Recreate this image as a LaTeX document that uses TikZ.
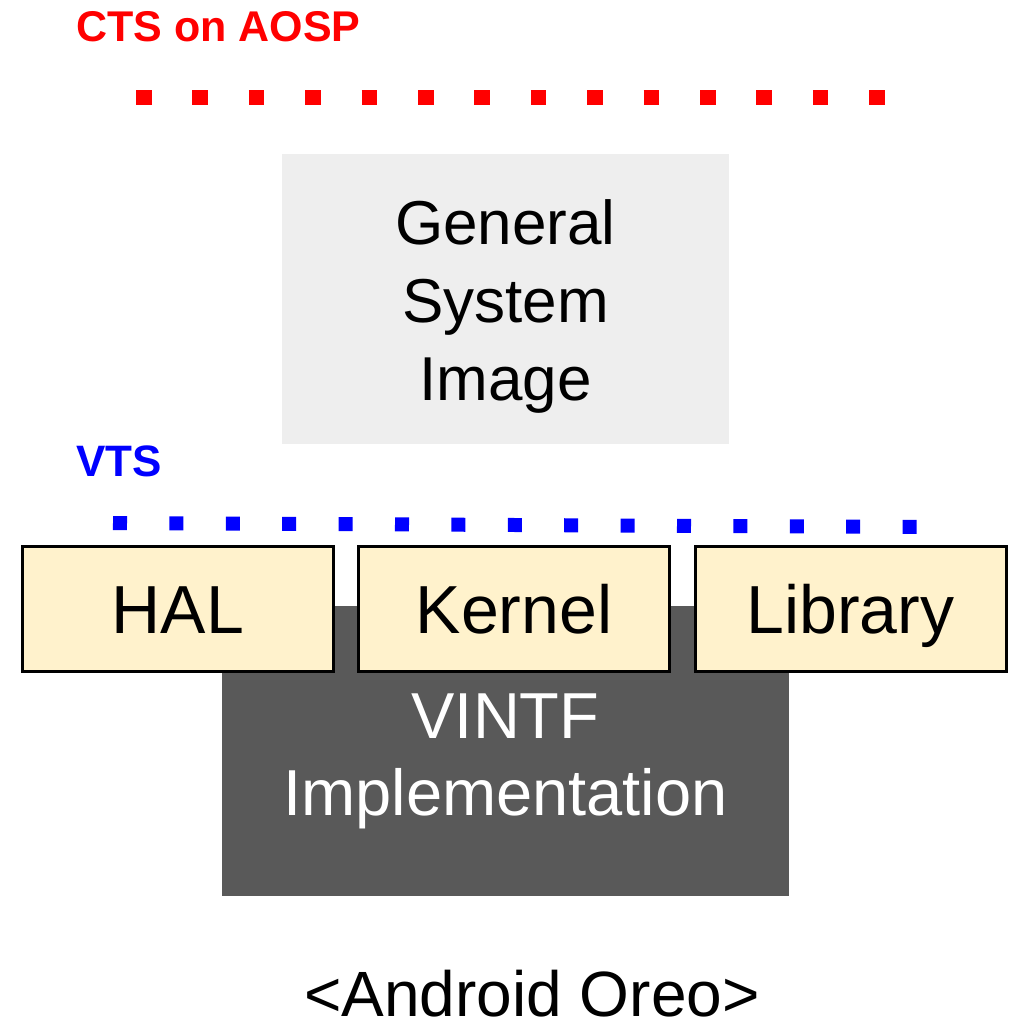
\documentclass[tikz,border=0pt]{standalone}
\usepackage{fontspec}
\setmainfont{Liberation Sans}
\definecolor{ctsred}{HTML}{FF0000}
\definecolor{vtsblue}{HTML}{0000FF}
\definecolor{gsigray}{HTML}{EEEEEE}
\definecolor{vintfgray}{HTML}{595959}
\definecolor{boxyellow}{HTML}{FFF2CC}
\begin{document}
\begin{tikzpicture}[x=1pt,y=-1pt,
  testlabel/.style={font=\bfseries\fontsize{43}{50}\selectfont, inner sep=0pt},
  gsibox/.style={fill=gsigray, draw=none, minimum width=447pt, minimum height=290pt, inner sep=0pt},
  vintfbox/.style={fill=vintfgray, draw=none, minimum width=567pt, minimum height=290pt, inner sep=0pt},
  comp/.style={fill=boxyellow, draw=black, line width=3pt, minimum width=311pt, minimum height=125pt,
    inner sep=0pt, font=\fontsize{68}{80}\selectfont, text height=48pt, text depth=0pt},
  bigtext/.style={align=center, inner sep=0pt},
  dotline/.style={line width=#1, line cap=butt}
]
\useasboundingbox (0,0) rectangle (1015,1030);
\fill[white] (0,0) rectangle (1015,1030);

% CTS label and red dotted line
\node[testlabel, text=ctsred, anchor=base west] (cts) at (76,42) {CTS on AOSP};
\coordinate (r1) at (136,97.5);
\coordinate (r2) at (886,97.5);
\draw[ctsred, dotline=15.5pt, dash pattern=on 15.5pt off 40.9pt] (r1) -- (r2);

% General System Image
\node[gsibox] (gsi) at (505.5,299) {};
\node[bigtext, font=\fontsize{62}{78}\selectfont, text=black] (gsitext) at (505.5,306.5) {General\\System\\Image};

% VTS label and blue dotted line
\node[testlabel, text=vtsblue, font=\bfseries\fontsize{44}{50}\selectfont, anchor=base west] (vts) at (76,476) {VTS};
\coordinate (b1) at (113,523);
\coordinate (b2) at (918,527);
\draw[vtsblue, dotline=14pt, dash pattern=on 14pt off 42.4pt] (b1) -- (b2);

% VINTF implementation (behind)
\node[vintfbox] (vintf) at (505.5,751) {};
\node[bigtext, font=\fontsize{65}{77}\selectfont, text=white] (vintftext) at (505.5,761) {VINTF\\Implementation};

% Component boxes
\node[comp] (hal) at (178,609) {HAL};
\node[comp] (kernel) at (514,609) {Kernel};
\node[comp] (library) at (850.5,609) {Library};

% Caption
\node[inner sep=0pt, anchor=base, font=\fontsize{64}{70}\selectfont] (caption) at (532,1016) {<Android Oreo>};
\end{tikzpicture}
\end{document}
